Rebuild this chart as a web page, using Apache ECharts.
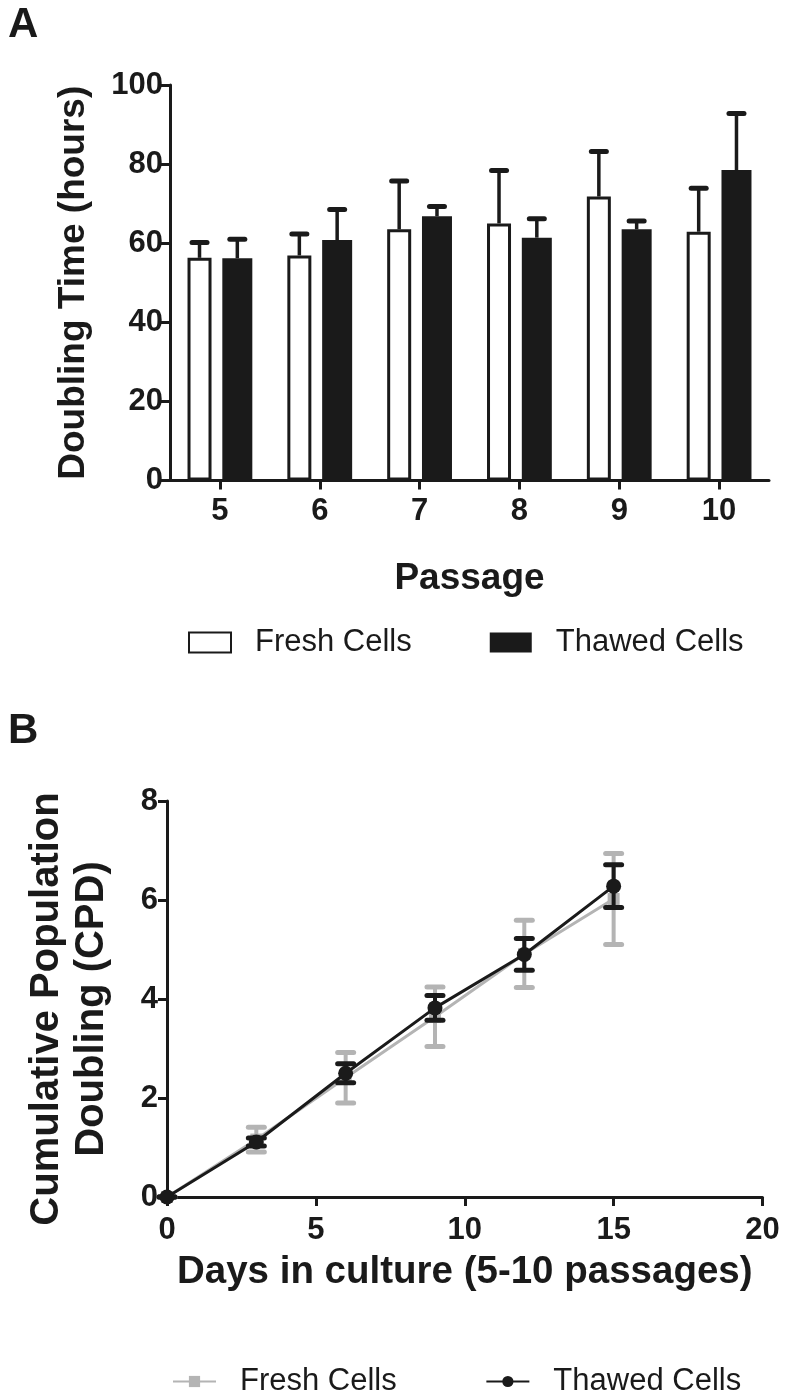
<!DOCTYPE html>
<html>
<head>
<meta charset="utf-8">
<script src="https://cdn.jsdelivr.net/npm/echarts@6/dist/echarts.min.js"></script>
<style>
html,body{margin:0;padding:0;background:#fff;}
#chart{width:788px;height:1399px;}
</style>
</head>
<body>
<div id="chart"></div>
<script>
// ---------- Panel A data ----------
const passages = ['5', '6', '7', '8', '9', '10'];
const freshDoubling = [56.3, 56.9, 63.5, 65.0, 71.8, 62.9];
const freshDoublingSD = [3.9, 5.4, 12.2, 13.4, 11.4, 11.0];
const thawedDoubling = [56.2, 60.8, 66.8, 61.4, 63.5, 78.5];
const thawedDoublingSD = [4.8, 7.7, 2.5, 4.8, 2.1, 14.3];
const yTicksA = [0, 20, 40, 60, 80, 100];

// ---------- Panel B data ----------
const days = [0, 3, 6, 9, 12, 15];
const freshCPD = [0, 1.16, 2.41, 3.64, 4.91, 6.02];
const freshCPDSD = [0, 0.25, 0.51, 0.60, 0.68, 0.92];
const thawedCPD = [0, 1.11, 2.50, 3.82, 4.90, 6.28];
const thawedCPDSD = [0, 0.08, 0.19, 0.25, 0.32, 0.43];
const xTicksB = [0, 5, 10, 15, 20];
const yTicksB = [0, 2, 4, 6, 8];

const INK = '#1a1a1a';
const GREY = '#b4b4b4';
const FONT = "'Liberation Sans', Arial, Helvetica, sans-serif";

const chart = echarts.init(document.getElementById('chart'), null, {renderer: 'canvas'});

// bar layout (A)
const wFresh = 24, wThawed = 30, gapPct = 0.45;
const total = wFresh * (1 + gapPct) + wThawed;
const offFresh = -total / 2 + wFresh / 2;
const offThawed = -total / 2 + wFresh * (1 + gapPct) + wThawed / 2;

function errBarA(name, means, sds, offset) {
  return {
    type: 'custom', name: name, xAxisIndex: 0, yAxisIndex: 0, z: 3, silent: true,
    data: means.map((m, i) => [i, m, m + sds[i]]),
    renderItem: function (params, api) {
      const c0 = api.coord([api.value(0), api.value(1)]);
      const c1 = api.coord([api.value(0), api.value(2)]);
      const x = c0[0] + offset;
      return {
        type: 'group', children: [
          {type: 'line', shape: {x1: x, y1: c0[1], x2: x, y2: c1[1]}, style: {stroke: INK, lineWidth: 3.5}},
          {type: 'line', shape: {x1: x - 7.5, y1: c1[1], x2: x + 7.5, y2: c1[1]}, style: {stroke: INK, lineWidth: 5, lineCap: 'round'}}
        ]
      };
    }
  };
}

function errBarB(name, xs, means, sds, color, z) {
  return {
    type: 'custom', name: name, xAxisIndex: 1, yAxisIndex: 1, z: z, silent: true,
    data: means.map((m, i) => [xs[i], m - sds[i], m + sds[i]]),
    renderItem: function (params, api) {
      const lo = api.coord([api.value(0), api.value(1)]);
      const hi = api.coord([api.value(0), api.value(2)]);
      const x = lo[0];
      return {
        type: 'group', children: [
          {type: 'line', shape: {x1: x, y1: lo[1], x2: x, y2: hi[1]}, style: {stroke: color, lineWidth: 4}},
          {type: 'line', shape: {x1: x - 8, y1: hi[1], x2: x + 8, y2: hi[1]}, style: {stroke: color, lineWidth: 5, lineCap: 'round'}},
          {type: 'line', shape: {x1: x - 8, y1: lo[1], x2: x + 8, y2: lo[1]}, style: {stroke: color, lineWidth: 5, lineCap: 'round'}}
        ]
      };
    }
  };
}

const axisCommon = {
  axisLine: {show: true, lineStyle: {color: INK, width: 3}},
  axisTick: {show: true, length: 9, lineStyle: {color: INK, width: 3}},
  splitLine: {show: false},
  axisLabel: {color: INK, fontSize: 31, fontWeight: 'bold', fontFamily: FONT}
};
const nameStyle = {color: INK, fontSize: 37, fontWeight: 'bold', fontFamily: FONT};

const option = {
  animation: false,
  backgroundColor: '#fff',
  textStyle: {fontFamily: FONT},
  graphic: [
    {type: 'text', left: 8, top: 4, style: {text: 'A', fill: INK, font: 'bold 42px ' + FONT}},
    {type: 'text', left: 8, top: 710, style: {text: 'B', fill: INK, font: 'bold 42px ' + FONT}}
  ],
  grid: [
    {left: 170, top: 85, width: 599, height: 395.5, containLabel: false},
    {left: 167, top: 801, width: 595.5, height: 396, containLabel: false}
  ],
  legend: [
    {
      data: ['Fresh Cells', 'Thawed Cells'].map(n => ({name: n, icon: 'rect'})),
      left: 188, top: 627, padding: 0, itemWidth: 42, itemHeight: 20, itemGap: 78,
      textStyle: {color: INK, fontSize: 31, fontFamily: FONT, padding: [0, 0, 0, 19]},
      selectedMode: false
    },
    {
      data: ['Fresh Cells ', 'Thawed Cells '],
      left: 172, top: 1366, padding: 0, itemWidth: 43, itemHeight: 14, itemGap: 80,
      textStyle: {color: INK, fontSize: 31, fontFamily: FONT, padding: [0, 0, 0, 19]},
      selectedMode: false
    }
  ],
  xAxis: [
    Object.assign({}, axisCommon, {
      type: 'category', gridIndex: 0, data: passages, boundaryGap: true,
      axisTick: {show: true, alignWithLabel: true, length: 9, lineStyle: {color: INK, width: 3}},
      axisLabel: Object.assign({}, axisCommon.axisLabel, {margin: 15}),
      name: 'Passage', nameLocation: 'middle', nameGap: 80, nameTextStyle: nameStyle
    }),
    Object.assign({}, axisCommon, {
      type: 'value', gridIndex: 1, min: xTicksB[0], max: xTicksB[xTicksB.length - 1], interval: 5,
      axisLabel: Object.assign({}, axisCommon.axisLabel, {margin: 18}),
      name: 'Days in culture (5-10 passages)', nameLocation: 'middle', nameGap: 56,
      nameTextStyle: Object.assign({}, nameStyle, {fontSize: 38.5})
    })
  ],
  yAxis: [
    Object.assign({}, axisCommon, {
      type: 'value', gridIndex: 0, min: yTicksA[0], max: yTicksA[yTicksA.length - 1], interval: 20,
      axisLabel: Object.assign({}, axisCommon.axisLabel, {margin: 7}),
      name: 'Doubling Time (hours)', nameLocation: 'middle', nameGap: 78, nameTextStyle: nameStyle
    }),
    Object.assign({}, axisCommon, {
      type: 'value', gridIndex: 1, min: yTicksB[0], max: yTicksB[yTicksB.length - 1], interval: 2,
      axisLabel: Object.assign({}, axisCommon.axisLabel, {margin: 9}),
      name: 'Cumulative Population\nDoubling (CPD)', nameLocation: 'middle', nameGap: 53,
      nameTextStyle: Object.assign({}, nameStyle, {fontSize: 40, lineHeight: 45, padding: [0, 20, 0, 0]})
    })
  ],
  series: [
    {
      name: 'Fresh Cells', type: 'bar', xAxisIndex: 0, yAxisIndex: 0,
      data: freshDoubling, barWidth: wFresh, barGap: (gapPct * 100) + '%',
      itemStyle: {color: '#ffffff', borderColor: INK, borderWidth: 3}, z: 2
    },
    {
      name: 'Thawed Cells', type: 'bar', xAxisIndex: 0, yAxisIndex: 0,
      data: thawedDoubling, barWidth: wThawed, barGap: (gapPct * 100) + '%',
      itemStyle: {color: INK}, z: 2
    },
    errBarA('errFreshA', freshDoubling, freshDoublingSD, offFresh),
    errBarA('errThawedA', thawedDoubling, thawedDoublingSD, offThawed),

    errBarB('errFreshB', days, freshCPD, freshCPDSD, GREY, 2),
    {
      name: 'Fresh Cells ', type: 'line', xAxisIndex: 1, yAxisIndex: 1, z: 3,
      data: days.map((d, i) => [d, freshCPD[i]]),
      symbol: 'rect', symbolSize: 12, clip: false,
      lineStyle: {color: GREY, width: 3}, itemStyle: {color: GREY}
    },
    errBarB('errThawedB', days, thawedCPD, thawedCPDSD, INK, 4),
    {
      name: 'Thawed Cells ', type: 'line', xAxisIndex: 1, yAxisIndex: 1, z: 5,
      data: days.map((d, i) => [d, thawedCPD[i]]),
      symbol: 'circle', symbolSize: 15, clip: false,
      lineStyle: {color: INK, width: 3}, itemStyle: {color: INK}
    }
  ]
};
chart.setOption(option);
</script>
</body>
</html>
